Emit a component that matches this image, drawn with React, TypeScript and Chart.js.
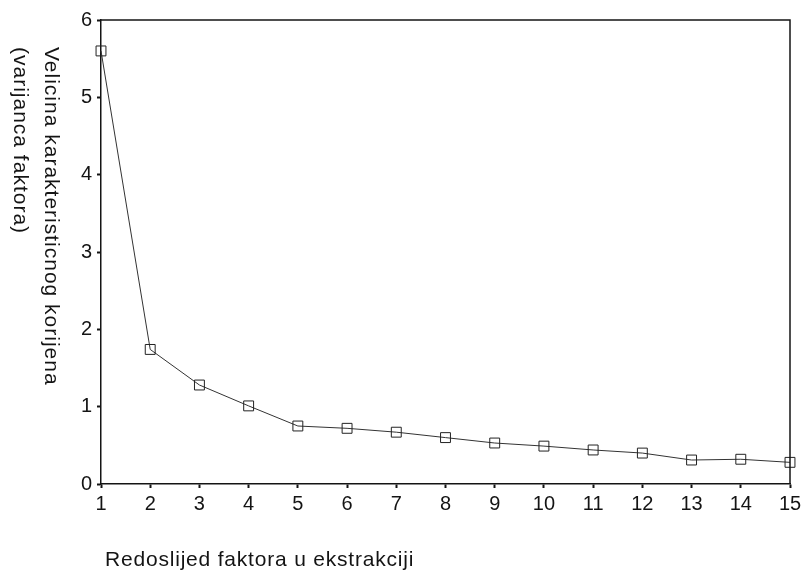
import React, { useEffect, useRef } from "react";
import { Chart, registerables } from "chart.js";

Chart.register(...registerables);

const factorOrder = [1, 2, 3, 4, 5, 6, 7, 8, 9, 10, 11, 12, 13, 14, 15];
const eigenvalues = [5.6, 1.74, 1.28, 1.01, 0.75, 0.72, 0.67, 0.6, 0.53, 0.49, 0.44, 0.4, 0.31, 0.32, 0.28];
const yTitleLines = ["Velicina karakteristicnog korijena", "(varijanca faktora)"];
const xTitle = "Redoslijed faktora u ekstrakciji";

const FONT = "'Liberation Sans', Arial, Helvetica, sans-serif";
const INK = "#141414";

const framePlugin = {
  id: "frameAndTitles",
  afterDraw(chart: any) {
    const { ctx, chartArea } = chart;
    ctx.save();
    ctx.strokeStyle = INK;
    ctx.lineWidth = 1.5;
    ctx.beginPath();
    ctx.moveTo(chartArea.left, chartArea.top);
    ctx.lineTo(chartArea.right, chartArea.top);
    ctx.lineTo(chartArea.right, chartArea.bottom);
    ctx.stroke();

    ctx.fillStyle = INK;
    ctx.font = `21px ${FONT}`;
    try {
      (ctx as any).letterSpacing = "0.8px";
    } catch (e) {}
    ctx.textAlign = "left";
    ctx.textBaseline = "alphabetic";
    // x title
    ctx.fillText(xTitle, 105, 566);
    // y title, rotated clockwise
    try {
      (ctx as any).letterSpacing = "1px";
    } catch (e) {}
    const baselines = [45, 14];
    yTitleLines.forEach((line, i) => {
      ctx.save();
      ctx.translate(baselines[i], 47);
      ctx.rotate(Math.PI / 2);
      ctx.fillText(line, 0, 0);
      ctx.restore();
    });
    ctx.restore();
  },
};

export default function App() {
  const ref = useRef<HTMLCanvasElement | null>(null);
  useEffect(() => {
    document.body.style.margin = "0";
    const canvas = ref.current;
    if (!canvas) return;
    const chart = new Chart(canvas, {
      type: "line",
      data: {
        datasets: [
          {
            data: factorOrder.map((f, i) => ({ x: f, y: eigenvalues[i] })),
            borderColor: "#333333",
            borderWidth: 1,
            pointStyle: "rect",
            pointRadius: 7,
            pointBorderWidth: 1,
            pointBorderColor: "#222222",
            pointBackgroundColor: "rgba(255,255,255,0)",
            tension: 0,
            clip: false,
          },
        ],
      },
      options: {
        responsive: false,
        animation: false,
        events: [],
        layout: { padding: { top: 20, right: 12, left: 0, bottom: 0 } },
        plugins: { legend: { display: false }, tooltip: { enabled: false }, title: { display: false } },
        scales: {
          x: {
            type: "linear",
            min: 1,
            max: 15,
            afterFit: (s: any) => {
              s.height = 93;
              s.paddingLeft = 0;
              s.paddingRight = 0;
            },
            ticks: { stepSize: 1, color: INK, font: { family: FONT, size: 20 }, padding: 4, maxRotation: 0 },
            grid: { drawOnChartArea: false, drawTicks: true, tickLength: 4, tickWidth: 2, tickColor: INK },
            border: { display: true, color: INK, width: 1.5 },
          },
          y: {
            type: "linear",
            min: 0,
            max: 6,
            afterFit: (s: any) => {
              s.width = 101;
              s.paddingTop = 0;
              s.paddingBottom = 0;
            },
            ticks: { stepSize: 1, color: INK, font: { family: FONT, size: 20 }, padding: 5 },
            grid: { drawOnChartArea: false, drawTicks: true, tickLength: 4, tickWidth: 2, tickColor: INK },
            border: { display: true, color: INK, width: 1.5 },
          },
        },
      },
      plugins: [framePlugin],
    } as any);
    return () => chart.destroy();
  }, []);
  return (
    <div style={{ position: "absolute", left: 0, top: 0, width: 802, height: 577, background: "#fff" }}>
      <canvas ref={ref} width={802} height={577} style={{ width: 802, height: 577, display: "block" }} />
    </div>
  );
}
